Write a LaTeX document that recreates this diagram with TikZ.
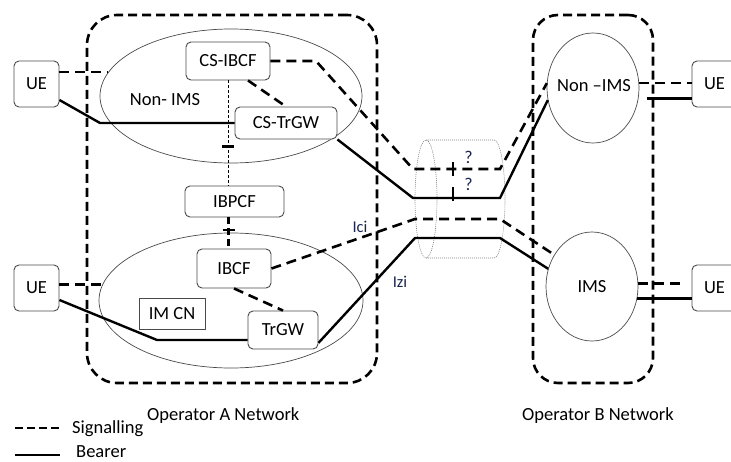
\documentclass[tikz,border=0pt]{standalone}
\usepackage{fontspec}
\setmainfont{Carlito}
\usetikzlibrary{shapes.geometric}
\definecolor{edge}{HTML}{4A4A4A}
\definecolor{navy}{HTML}{1C2550}
\begin{document}
\begin{tikzpicture}[x=1pt,y=-1pt,
  font=\fontsize{18.5}{22}\selectfont,
  entbox/.style={draw=edge, line width=0.9pt, rounded corners=5pt, fill=white, inner sep=0pt},
  netarea/.style={draw=edge, line width=0.7pt, ellipse, inner sep=0pt},
  opnet/.style={draw=black, line width=2.6pt, dash pattern=on 9pt off 5pt, rectangle, inner sep=0pt},
  sig/.style={line width=2.6pt, dash pattern=on 10pt off 6pt},
  bear/.style={line width=2.4pt},
  ctl/.style={line width=0.8pt, dash pattern=on 3pt off 2pt},
  tbar/.style={line width=2.6pt},
  cyl/.style={draw=gray, line width=0.6pt, dash pattern=on 1pt off 1pt},
  iflabel/.style={text=navy, font=\fontsize{16.5}{20}\selectfont, inner sep=0pt},
  qlabel/.style={text=navy, font=\fontsize{18}{20}\selectfont, inner sep=0pt},
  captext/.style={anchor=base west, inner sep=0pt},
]
\useasboundingbox (0,0) rectangle (731,461);

% operator network boundaries
\node[opnet, rounded corners=30pt, minimum width=290pt, minimum height=368pt] (opA) at (232,199) {};
\node[opnet, rounded corners=25pt, minimum width=120pt, minimum height=368pt] (opB) at (593,199) {};

% interconnect cylinder
\draw[cyl] (426,199) ellipse [x radius=11pt, y radius=59pt];
\draw[cyl] (426,140) -- (494,140) arc[start angle=90, end angle=-90, x radius=11pt, y radius=59pt] -- (426,258);

% network domains
\node[netarea, minimum width=262pt, minimum height=134pt] (nonimsA) at (231,96) {};
\node[netarea, minimum width=264pt, minimum height=135pt] (imsA) at (231,300.5) {};
\node[netarea, minimum width=92pt, minimum height=110pt] (nonimsB) at (593,88) {};
\node[netarea, minimum width=92pt, minimum height=109pt] (imsB) at (592,286.5) {};
\node (lblNonA) at (165,99.5) {Non- IMS};
\node (lblNonB) at (594,86) {Non –IMS};
\node (lblImsB) at (592,286.5) {IMS};

% functional entities
\node[entbox, minimum width=45pt, minimum height=46pt] (ueA1) at (36.5,84) {UE};
\node[entbox, minimum width=45pt, minimum height=46pt] (ueA2) at (36.5,288) {UE};
\node[entbox, minimum width=45pt, minimum height=46pt] (ueB1) at (714.5,84) {UE};
\node[entbox, minimum width=45pt, minimum height=46pt] (ueB2) at (714.5,288) {UE};
\node[entbox, minimum width=84pt, minimum height=38pt] (csibcf) at (228,61) {CS-IBCF};
\node[entbox, minimum width=102pt, minimum height=32pt] (cstrgw) at (286,123) {CS-TrGW};
\node[entbox, minimum width=99pt, minimum height=31pt] (ibpcf) at (234.5,201.5) {IBPCF};
\node[entbox, minimum width=74pt, minimum height=39pt] (ibcf) at (234,268.5) {IBCF};
\node[entbox, minimum width=70pt, minimum height=38pt] (trgw) at (283,330) {TrGW};
\node[entbox, rounded corners=0pt, minimum width=66pt, minimum height=31pt] (imcn) at (172,313.5) {IM CN};

% bend points of the inter-operator paths
\coordinate (s1) at (316,61);
\coordinate (s2) at (413,169);
\coordinate (s3) at (500,169);
\coordinate (b1) at (413,198);
\coordinate (b2) at (500,198);
\coordinate (s4) at (415,219);
\coordinate (s5) at (500,219);
\coordinate (b3) at (415,238);
\coordinate (b4) at (500,238);
\coordinate (u1) at (100,123);
\coordinate (u2) at (157,340);

% operator A, non-IMS side
\draw[sig] (ueA1.east |- nonimsA.169) -- (nonimsA.169);
\draw[bear] ([yshift=-16pt]ueA1.east) -- (u1) -- (cstrgw.west);
\draw[sig] ([xshift=20pt]csibcf.south) -- (cstrgw.north);
\draw[ctl] (csibcf.south) -- coordinate[pos=0.63] (tb1) (csibcf.south |- ibpcf.north);
\draw[tbar] ([xshift=-6pt]tb1) -- ([xshift=6pt]tb1);

% operator A, IMS side
\draw[sig, dash pattern=on 7pt off 4pt] ([xshift=-6pt]ibpcf.south) -- coordinate[pos=0.4] (tb2) ([xshift=-6pt]ibpcf.south |- ibcf.north);
\draw[tbar] ([xshift=-6pt]tb2) -- ([xshift=6pt]tb2);
\draw[sig] (ueA2.east |- imsA.173) -- (imsA.173);
\draw[bear] ([yshift=-12pt]ueA2.east) -- (u2) -- (u2 -| trgw.west);
\draw[sig] (ibcf.south) -- (trgw.north);

% interconnection between the operators
\draw[sig] (csibcf.east) -- (s1) -- (s2) -- coordinate[pos=0.46] (tickS) (s3) -- (nonimsB.174);
\draw[bear] (cstrgw.south east) -- (b1) -- coordinate[pos=0.46] (tickB) (b2) -- (nonimsB.195);
\draw[sig] (ibcf.east) -- (s4) -- (s5) -- (imsB.140);
\draw[bear] (trgw.-20) -- (b3) -- (b4) -- (imsB.158);
\draw[tbar] ([yshift=7pt]tickS) -- ([yshift=-7pt]tickS);
\draw[tbar] ([yshift=11pt]tickB) -- ([yshift=-3pt]tickB);
\node[qlabel] (qS) at ([xshift=15.5pt,yshift=11.5pt]tickS) {?};
\node[qlabel] (qB) at ([xshift=15.5pt,yshift=14pt]tickB) {?};
\node[iflabel] (ici) at (360,226.5) {Ici};
\node[iflabel] (izi) at (400,282) {Izi};

% operator B access
\coordinate (nb) at ([xshift=8pt]nonimsB.-13);
\coordinate (ie) at (imsB.4 -| ueB2.west);
\draw[sig] (nonimsB.6) -- (nonimsB.6 -| ueB1.west);
\draw[bear] (nb) -- (nb -| ueB1.west);
\draw[sig] (imsB.4) -- ([xshift=-7pt]ie);
\draw[bear] (imsB.-15) -- (imsB.-15 -| ueB2.west);

% captions
\node[captext] (capA) at (147,420) {Operator A Network};
\node[captext] (capB) at (522,420) {Operator B Network};

% legend
\coordinate (lgS1) at (15,428);
\coordinate (lgS2) at (60,428);
\coordinate (lgB1) at (15,455);
\coordinate (lgB2) at (60,455);
\draw[sig, dash pattern=on 8pt off 4pt] (lgS1) -- (lgS2);
\draw[bear] (lgB1) -- (lgB2);
\node[captext] (lgSt) at (72,433) {Signalling};
\node[captext] (lgBt) at (76,457) {Bearer};
\end{tikzpicture}
\end{document}
